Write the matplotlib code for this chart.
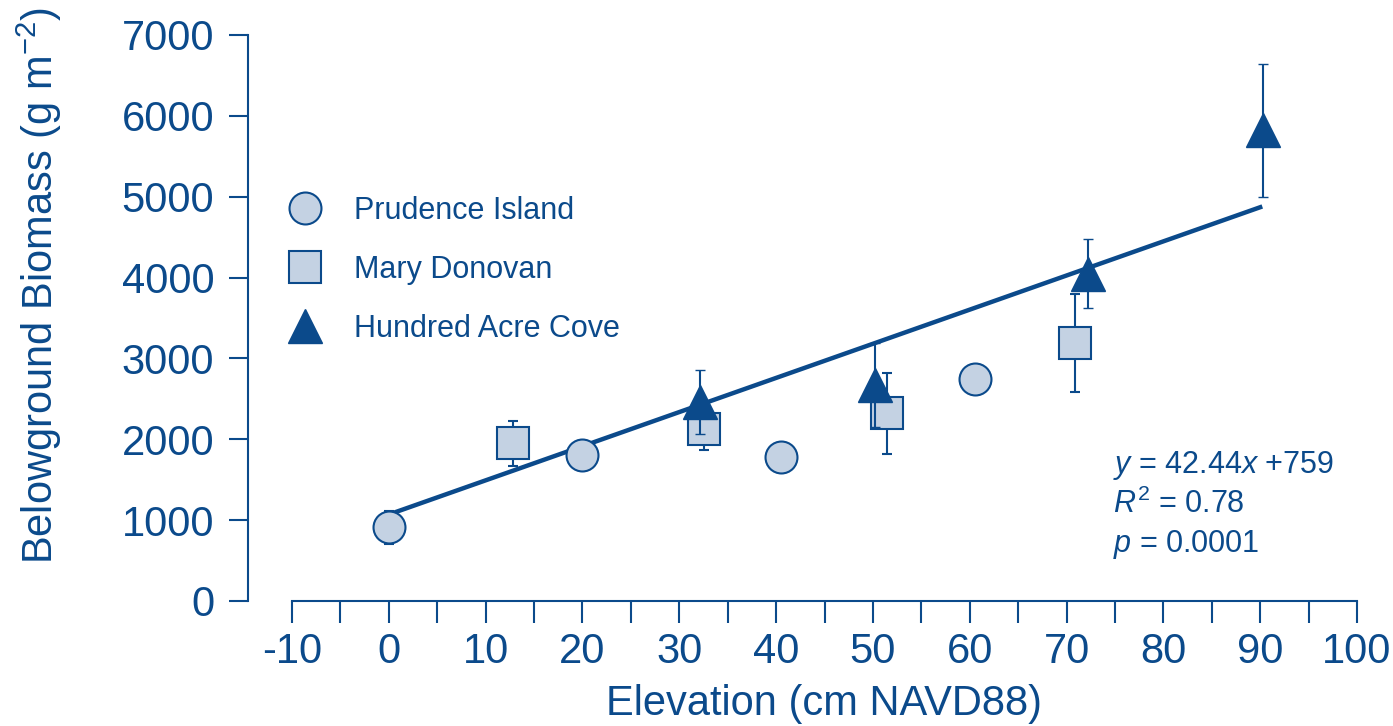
import numpy as np
import matplotlib
matplotlib.use("Agg")
import matplotlib.pyplot as plt
import matplotlib.ticker as ticker
from matplotlib.lines import Line2D

plt.rcParams['font.family'] = ['Liberation Sans', 'DejaVu Sans']
plt.rcParams['mathtext.fontset'] = 'custom'
plt.rcParams['mathtext.rm'] = 'Liberation Sans'
plt.rcParams['mathtext.it'] = 'Liberation Sans:italic'

NAVY = "#0b4a8b"
FILL = "#c4d2e3"

# Prudence Island (circles)
pi_x = [0, 20, 40.5, 60.5]
pi_y = [910, 1800, 1780, 2740]
pi_err = [200, 180, 180, 150]

# Mary Donovan (squares)
md_x = [12.8, 32.6, 51.5, 70.9]
md_y = [1950, 2130, 2320, 3190]
md_err = [280, 260, 500, 610]

# Hundred Acre Cove (triangles)
hac_x = [32.1, 50.2, 72.2, 90.3]
hac_y = [2460, 2670, 4050, 5820]
hac_err = [400, 520, 430, 820]

# regression line as drawn
fit_x = [0, 90]
fit_y = [1070, 4870]

eq_lines = [r"$\mathit{y}$ = 42.44$\mathit{x}$ +759",
            r"$\mathit{R}^{2}$ = 0.78",
            r"$\mathit{p}$ = 0.0001"]

fig = plt.figure(figsize=(13.93, 7.26), dpi=100)
ax = fig.add_axes([292 / 1393, 1 - 601 / 726, 1065 / 1393, 566 / 726])

ax.plot(fit_x, fit_y, "-", color=NAVY, lw=3.2, zorder=2)

ekw = dict(ecolor=NAVY, elinewidth=1.5, capsize=3.6, capthick=1.5, ls="none")
ax.errorbar(pi_x, pi_y, yerr=pi_err, marker="o", ms=23, mfc=FILL, mec=NAVY,
            mew=1.5, zorder=3, **ekw)
ax.errorbar(md_x, md_y, yerr=md_err, marker="s", ms=23, mfc=FILL, mec=NAVY,
            mew=1.5, zorder=3, **ekw)
ax.errorbar(hac_x, hac_y, yerr=hac_err, marker="^", ms=24, mfc=NAVY, mec=NAVY,
            mew=1.0, zorder=4, **ekw)

ax.set_xlim(-10, 100)
ax.set_ylim(0, 7000)

for s in ["top", "right"]:
    ax.spines[s].set_visible(False)
ax.spines["left"].set_position(("outward", 32))
ax.spines["left"].set_color(NAVY)
ax.spines["bottom"].set_color(NAVY)
ax.spines["left"].set_linewidth(1.5)
ax.spines["bottom"].set_linewidth(1.5)

ax.xaxis.set_major_locator(ticker.MultipleLocator(10))
ax.xaxis.set_minor_locator(ticker.MultipleLocator(5))
ax.yaxis.set_major_locator(ticker.MultipleLocator(1000))
ax.xaxis.set_major_formatter(ticker.FuncFormatter(lambda v, p: "%d" % v))

ax.tick_params(axis="x", which="both", direction="out", length=16, width=1.5,
               color=NAVY, labelcolor=NAVY, labelsize=30, pad=6)
ax.tick_params(axis="y", direction="out", length=14, width=1.5,
               color=NAVY, labelcolor=NAVY, labelsize=30, pad=10)

ax.set_xlabel("Elevation (cm NAVD88)", fontsize=30, color=NAVY)
ax.set_ylabel(r"Belowground Biomass (g m$^{-2}$)", fontsize=30, color=NAVY)
ax.xaxis.set_label_coords(0.5, -0.147)
ax.yaxis.set_label_coords(-0.214, 0.558)

handles = [
    Line2D([], [], ls="none", marker="o", ms=23, mfc=FILL, mec=NAVY, mew=1.5),
    Line2D([], [], ls="none", marker="s", ms=23, mfc=FILL, mec=NAVY, mew=1.5),
    Line2D([], [], ls="none", marker="^", ms=24, mfc=NAVY, mec=NAVY, mew=1.0),
]
labels = ["Prudence Island", "Mary Donovan", "Hundred Acre Cove"]
leg = ax.legend(handles, labels, loc="upper left",
                bbox_to_anchor=(290 / 1393, 1 - 196 / 726),
                bbox_transform=fig.transFigure, frameon=False,
                fontsize=22, labelspacing=0.95, handlelength=1.0,
                handletextpad=1.1, borderpad=0, borderaxespad=0)
for t in leg.get_texts():
    t.set_color(NAVY)

for i, line in enumerate(eq_lines):
    ax.text(74.8, 1680 - i * 490, line, fontsize=22, color=NAVY,
            ha="left", va="center")

fig.savefig("out.png", dpi=100)
